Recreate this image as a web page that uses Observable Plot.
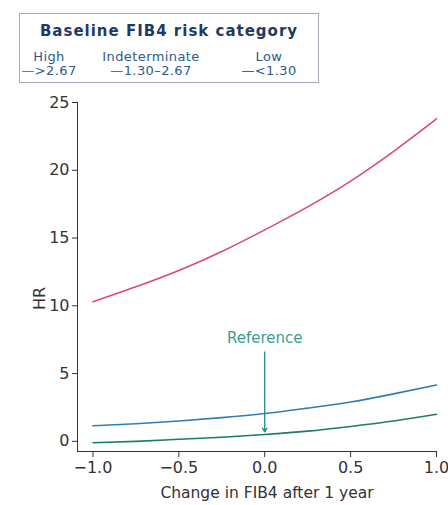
<!DOCTYPE html>
<html><head><meta charset="utf-8">
<script src="https://cdn.jsdelivr.net/npm/d3@7"></script>
<script src="https://cdn.jsdelivr.net/npm/@observablehq/plot@0.6"></script>
<style>
body{margin:0;background:#fff;font-family:"DejaVu Sans",Verdana,sans-serif;}
#wrap{position:relative;width:448px;height:505px;}
#legend{position:absolute;left:19px;top:13px;width:300px;height:70px;border:1px solid #a3abb8;box-sizing:border-box;background:#fff;color:#2e5a8c;}
#legend .title{position:absolute;left:0;right:0;top:8px;text-align:center;font-weight:bold;font-size:15px;letter-spacing:1px;color:#1f3a66;}
#legend .col{position:absolute;top:36px;text-align:center;font-size:13px;line-height:14px;letter-spacing:0.4px;transform:translateX(-50%);white-space:nowrap;}
</style>
</head><body>
<div id="wrap">
<div id="chart"></div>
<div id="legend"><div class="title">Baseline FIB4 risk category</div></div>
</div>
<script>
// ---- data ----
const xChange = [-1, -0.75, -0.5, -0.25, 0, 0.25, 0.5, 0.75, 1];
const hrHigh  = [10.3, 11.4, 12.6, 14.0, 15.6, 17.3, 19.2, 21.4, 23.8];
const hrIndet = [1.15, 1.3, 1.5, 1.75, 2.05, 2.45, 2.9, 3.5, 4.15];
const hrLow   = [-0.1, 0.0, 0.15, 0.3, 0.5, 0.75, 1.1, 1.5, 2.0];
const seriesNames = ["High", "Indeterminate", "Low"];
const seriesRanges = [">2.67", "1.30\u20132.67", "<1.30"];
const seriesColors = ["#d84a78", "#2f7db3", "#1c7c6c"];
const xTicks = [-1, -0.5, 0, 0.5, 1];
const yTicks = [0, 5, 10, 15, 20, 25];
const refLabel = "Reference";
const refX = 0, refTextY = 7.6, refArrowFrom = 6.6, refArrowTo = 0.7;
const xTitle = "Change in FIB4 after 1 year";
const yTitle = "HR";

const seriesValues = [hrHigh, hrIndet, hrLow];
const rows = [];
seriesNames.forEach((s, i) => xChange.forEach((x, j) => rows.push({x, hr: seriesValues[i][j], s})));

// legend
const legend = document.getElementById("legend");
const colCenters = [29, 131, 249];
seriesNames.forEach((s, i) => {
  const d = document.createElement("div");
  d.className = "col";
  d.style.left = colCenters[i] + "px";
  d.innerHTML = `${s}<br><span style="color:${seriesColors[i]}">\u2014</span>${seriesRanges[i].replace("<","&lt;").replace(">","&gt;")}`;
  legend.appendChild(d);
});

const chart = Plot.plot({
  width: 448, height: 505,
  marginLeft: 77, marginRight: 12, marginTop: 102, marginBottom: 54,
  style: {fontFamily: "DejaVu Sans, Verdana, sans-serif", fontSize: "16px", color: "#333", background: "transparent"},
  x: {domain: [-1.09, 1], ticks: xTicks, tickFormat: d3.format(".1f"), tickSize: 6, tickPadding: 4, label: null, line: true},
  y: {domain: [-0.75, 25], ticks: yTicks, tickSize: 5, tickPadding: 3, label: null, line: true},
  color: {domain: seriesNames, range: seriesColors},
  marks: [
    Plot.line(rows, {x: "x", y: "hr", z: "s", stroke: "s", curve: "natural", strokeWidth: 1.6}),
    Plot.text([{x: refX, y: refTextY}], {x: "x", y: "y", text: () => refLabel, fill: "#3a9e94", fontSize: 15}),
    Plot.arrow([{x: refX, y1: refArrowFrom, y2: refArrowTo}], {x1: "x", x2: "x", y1: "y1", y2: "y2", stroke: "#1f8b88", strokeWidth: 1.3, headLength: 5}),
    Plot.text([yTitle], {frameAnchor: "left", dx: -38, dy: 33, rotate: -90, fontSize: 16, fill: "#333"}),
    Plot.text([xTitle], {frameAnchor: "bottom", dy: 46, dx: 10, fontSize: 15.5, fill: "#333", style: "letter-spacing:1px"})
  ]
});
document.getElementById("chart").appendChild(chart);
</script>
</body></html>
